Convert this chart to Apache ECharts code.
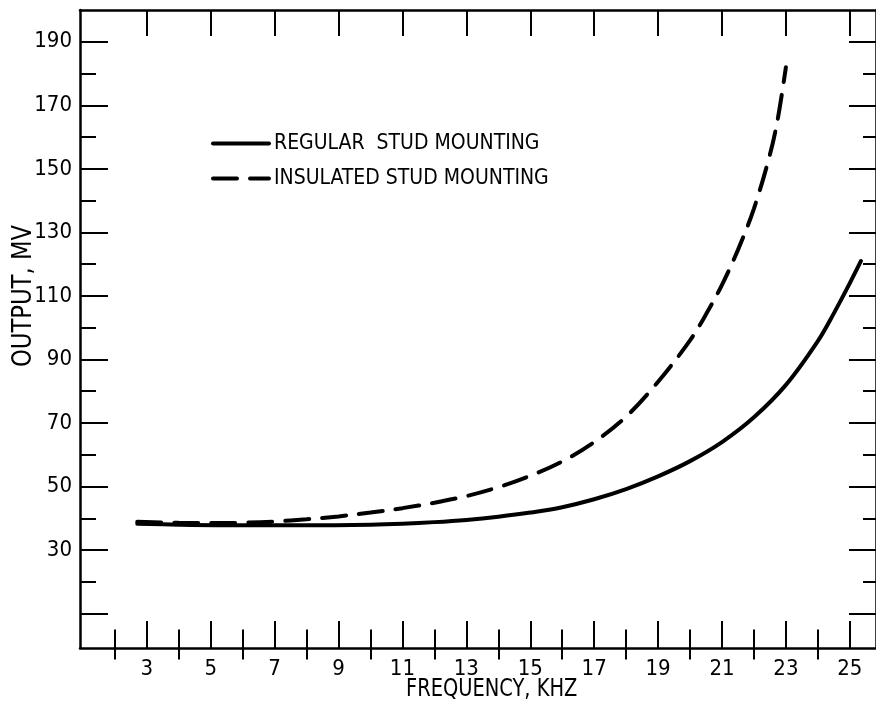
<!DOCTYPE html>
<html>
<head>
<meta charset="utf-8">
<title>Output vs Frequency</title>
<script src="https://cdn.jsdelivr.net/npm/echarts@6/dist/echarts.min.js"></script>
<style>
  html, body { margin: 0; padding: 0; background: #fff; }
  #chart { width: 876px; height: 711px; }
</style>
</head>
<body>
<div id="chart"></div>
<script>
// Frequency (kHz) / output (mV) pairs for each mounting
const regularStud = [
  [2.7, 38.3], [4, 38.0], [6, 37.8], [8, 37.8], [10, 38.0], [11, 38.3],
  [12, 38.8], [13, 39.5], [14, 40.5], [15, 41.8], [16, 43.5], [17, 46.0],
  [18, 49.2], [19, 53.2], [20, 58.0], [21, 64.0], [22, 71.8], [23, 82.0],
  [24, 95.8], [24.5, 104.5], [25, 114.0], [25.35, 121]
];
const insulatedStud = [
  [2.7, 38.9], [4, 38.6], [5, 38.5], [6, 38.6], [7, 39.0], [8, 39.7],
  [9, 40.6], [10, 41.8], [11, 43.2], [12, 44.9], [13, 47.0], [14, 49.8],
  [15, 53.4], [16, 57.9], [17, 64.0], [18, 72.0], [19, 83.0], [20, 96.0],
  [20.5, 104.2], [21, 113.5], [21.5, 124.5], [22, 137.5], [22.5, 154.5],
  [22.75, 166], [23, 182]
];

// Tick and label positions
const xMajorTicks = [3, 5, 7, 9, 11, 13, 15, 17, 19, 21, 23, 25];
const xMinorTicks = [2, 4, 6, 8, 10, 12, 14, 16, 18, 20, 22, 24];
const xLabels = [3, 5, 7, 9, 11, 13, 15, 17, 19, 21, 23, 25];
const yMajorTicks = [10, 30, 50, 70, 90, 110, 130, 150, 170, 190];
const yMinorTicks = [20, 40, 60, 80, 100, 120, 140, 160, 180];
const yLabels = [30, 50, 70, 90, 110, 130, 150, 170, 190];

const seriesNames = ['REGULAR  STUD MOUNTING', 'INSULATED STUD MOUNTING'];
const xTitle = 'FREQUENCY, KHZ';
const yTitle = 'OUTPUT, MV';

const FONT = '"Liberation Sans Narrow", "DejaVu Sans Condensed", "Liberation Sans", sans-serif';
const INK = '#000';

const X_MIN = 0.908, X_MAX = 25.82;
const Y_MIN = -0.82, Y_MAX = 200;

function xAx(opts) {
  return Object.assign({
    type: 'value', min: X_MIN, max: X_MAX, gridIndex: 0,
    splitLine: { show: false },
    axisLine: { show: false },
    axisLabel: { show: false },
    axisTick: { show: false }
  }, opts);
}
function yAx(opts) {
  return Object.assign({
    type: 'value', min: Y_MIN, max: Y_MAX, gridIndex: 0,
    splitLine: { show: false },
    axisLine: { show: false },
    axisLabel: { show: false },
    axisTick: { show: false }
  }, opts);
}
const tick = (vals, len) => ({
  show: true, inside: true, length: len, customValues: vals,
  lineStyle: { color: INK, width: 2 }
});
const frame = { show: true, onZero: false, lineStyle: { color: INK, width: 2.5 } };

const chart = echarts.init(document.getElementById('chart'), null, { renderer: 'canvas' });

chart.setOption({
  backgroundColor: '#fff',
  animation: false,
  color: [INK, INK],
  grid: { left: 80, top: 10, width: 798, height: 638, containLabel: false },
  xAxis: [
    xAx({ position: 'bottom', axisLine: frame, axisTick: tick(xMajorTicks, 27),
      axisLabel: { show: true, customValues: xLabels, margin: 10, color: INK,
        fontFamily: FONT, fontSize: 22 } }),
    xAx({ position: 'bottom', axisTick: tick(xMinorTicks, 16) }),
    xAx({ position: 'top', axisLine: frame, axisTick: tick(xMajorTicks, 26) }),
    xAx({ position: 'top', axisTick: tick(xMinorTicks, 14) })
  ],
  yAxis: [
    yAx({ position: 'left', axisLine: frame, axisTick: tick(yMajorTicks, 28),
      axisLabel: { show: true, customValues: yLabels, margin: 8, color: INK,
        fontFamily: FONT, fontSize: 22 } }),
    yAx({ position: 'left', axisTick: tick(yMinorTicks, 16) }),
    yAx({ position: 'right', axisLine: frame, axisTick: tick(yMajorTicks, 27) }),
    yAx({ position: 'right', axisTick: tick(yMinorTicks, 13) })
  ],
  legend: {
    show: true,
    orient: 'vertical', left: 211, top: 133, padding: 0, itemGap: 14,
    itemWidth: 56, itemHeight: 22,
    itemStyle: { opacity: 0 },
    lineStyle: { width: 4, color: INK },
    textStyle: { color: INK, fontFamily: FONT, fontSize: 21 },
    data: seriesNames
  },
  graphic: [
    { type: 'text', x: 406, y: 678, scaleX: 0.9,
      style: { text: xTitle, fill: INK, font: '24px ' + FONT } },
    { type: 'text', x: 11, y: 367, rotation: Math.PI / 2, scaleX: 0.97,
      style: { text: yTitle, fill: INK, font: '26px ' + FONT } }
  ],
  series: [
    {
      name: seriesNames[0], type: 'line', xAxisIndex: 0, yAxisIndex: 0,
      data: regularStud, smooth: 0.35,
      showSymbol: false, symbol: 'none',
      itemStyle: { color: INK },
      lineStyle: { color: INK, width: 4, cap: 'round' }
    },
    {
      name: seriesNames[1], type: 'line', xAxisIndex: 0, yAxisIndex: 0,
      data: insulatedStud, smooth: 0.35,
      showSymbol: false, symbol: 'none',
      itemStyle: { color: INK },
      lineStyle: { color: INK, width: 4, type: [24, 13], cap: 'round' }
    }
  ]
});
</script>
</body>
</html>
